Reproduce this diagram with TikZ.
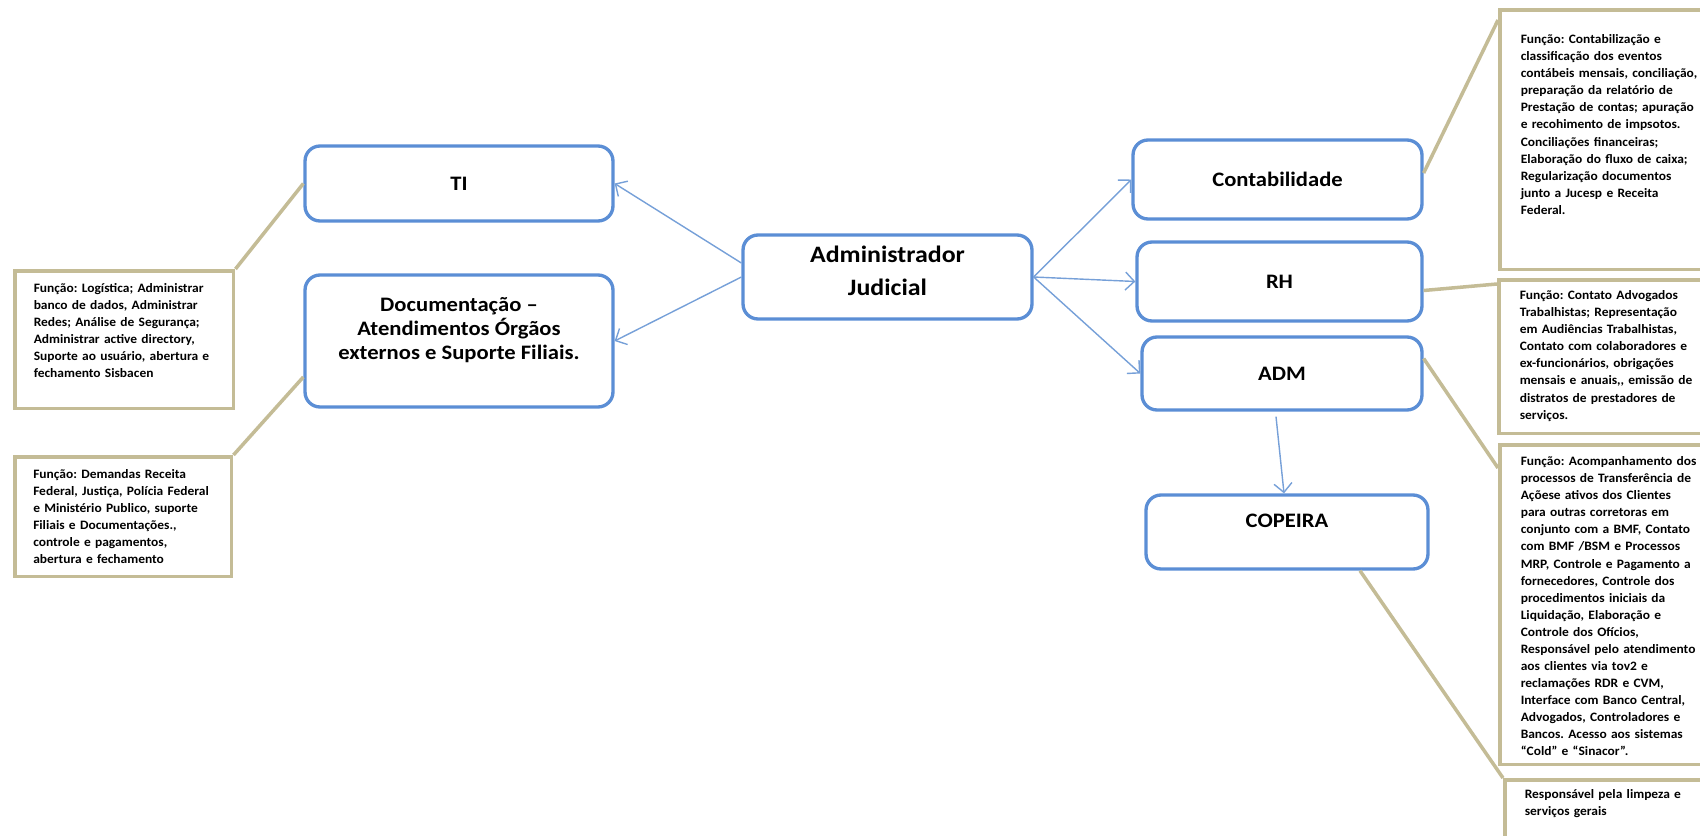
\documentclass[tikz,border=0pt]{standalone}
\usepackage{fontspec}
\setmainfont{Carlito}
\newfontfamily\unitfont[FakeStretch=1.1]{Carlito}
\newfontfamily\notefont[FakeStretch=1.05]{Carlito}
\usetikzlibrary{arrows.meta}
\definecolor{unitblue}{RGB}{91,142,213}
\definecolor{linkblue}{RGB}{118,160,216}
\definecolor{notetan}{RGB}{196,188,150}
\frenchspacing

\begin{document}
\begin{tikzpicture}[x=0.02cm,y=-0.02cm,>={Straight Barb[length=1.8mm,width=3.6mm]}]
  \tikzstyle{unit}=[draw=unitblue,line width=1.9pt,rounded corners=0.3cm,fill=white,align=center,
    font=\unitfont\bfseries\fontsize{11.7}{14}\selectfont]
  \tikzstyle{note}=[draw=notetan,line width=2pt,fill=white,anchor=north west,inner ysep=0pt,
    inner xsep=0.42cm,align=left,font=\notefont\bfseries\fontsize{7.3}{9.7}\selectfont]
  \tikzstyle{link}=[color=linkblue,line width=0.8pt]
  \tikzstyle{tie}=[color=notetan,line width=2pt]

  \useasboundingbox (0,0) rectangle (1700,835);
  \clip (0,0) rectangle (1700,835);

  \node[unit,minimum width=6.16cm,minimum height=1.5cm]  (ti)    at (459,183.5) {TI};
  \node[unit,minimum width=6.16cm,minimum height=2.64cm,text height=24.6pt,text depth=3pt,
    font=\unitfont\bfseries\fontsize{11.7}{13.7}\selectfont]
                                                         (doc)   at (459,341)
    {Documentação –\\Atendimentos Órgãos\\externos e Suporte Filiais.};
  \node[unit,minimum width=5.78cm,minimum height=1.68cm,text height=24.7pt,text depth=3.5pt,
    font=\unitfont\bfseries\fontsize{13.4}{19}\selectfont]
                                                         (admin) at (887.5,277) {Administrador\\Judicial};
  \node[unit,minimum width=5.78cm,minimum height=1.58cm] (cont)  at (1277.5,179.5) {Contabilidade};
  \node[unit,minimum width=5.7cm,minimum height=1.58cm]  (rh)    at (1279.5,281.5) {RH};
  \node[unit,minimum width=5.6cm,minimum height=1.46cm]  (adm)   at (1282,373.5) {ADM};
  \node[unit,minimum width=5.64cm,minimum height=1.48cm,text height=8pt,text depth=12.8pt]
                                                         (copeira) at (1287,532) {COPEIRA};

  % callouts
  \node[note,inner xsep=0.38cm,text width=3.62cm,text height=0.44cm,text depth=2.32cm] (l1) at (13,269)
    {Função: Logística; Administrar\\banco de dados, Administrar\\Redes; Análise de Segurança;\\Administrar active directory,\\Suporte ao usuário, abertura~e\\fechamento Sisbacen};
  \node[note,inner xsep=0.37cm,text width=3.6cm,text height=0.44cm,text depth=1.96cm] (l2) at (13,455)
    {Função: Demandas Receita\\Federal, Justiça, Polícia~Federal\\e Ministério Publico, suporte\\Filiais e Documentações.,\\controle e pagamentos,\\abertura e fechamento};
  \node[note,text width=4cm,text height=0.68cm,text depth=4.52cm] (r1) at (1498,8)
    {Função: Contabilização e\\classificação dos eventos\\contábeis mensais, conciliação,\\preparação da relatório de\\Prestação de contas; apuração\\e recohimento de impsotos.\\Conciliações financeiras;\\Elaboração do fluxo de caixa;\\Regularização documentos\\junto a Jucesp e Receita\\Federal.};
  \node[note,text width=4cm,text height=0.4cm,text depth=2.68cm] (r2) at (1497,278)
    {Função: Contato Advogados\\Trabalhistas; Representação\\em Audiências Trabalhistas,\\Contato com colaboradores e\\ex-funcionários, obrigações\\mensais e anuais,, emissão de\\distratos de prestadores de\\serviços.};
  \node[note,text width=4cm,text height=0.42cm,text depth=5.98cm] (r3) at (1498,443)
    {Função: Acompanhamento dos\\processos de Transferência de\\Açõese ativos dos Clientes\\para outras corretoras em\\conjunto com a BMF, Contato\\com BMF /BSM e Processos\\MRP, Controle e Pagamento a\\fornecedores, Controle dos\\procedimentos iniciais da\\Liquidação, Elaboração e\\Controle dos Ofícios,\\Responsável pelo atendimento\\aos clientes via tov2 e\\reclamações RDR e CVM,\\Interface com Banco Central,\\Advogados, Controladores e\\Bancos. Acesso aos sistemas\\“Cold” e “Sinacor”.};
  \node[note,inner xsep=0.4cm,text width=4cm,text height=0.38cm,text depth=1.22cm] (r4) at (1503,778)
    {Responsável pela limpeza e\\serviços gerais};

  \path[tie]
  (l1.north east)                 edge (ti.west)
  (l2.north east)                 edge ([yshift=-0.72cm]doc.west)
  ([yshift=-0.24cm]r1.north west) edge ([yshift=0.13cm]cont.east)
  ([yshift=-0.12cm]r2.north west) edge ([yshift=-0.18cm]rh.east)
  ([yshift=-0.5cm]r3.north west)  edge ([yshift=0.3cm]adm.east)
  (r4.north west)                 edge ([xshift=1.46cm]copeira.south)
  ;

  \path[link,->]
  ([yshift=0.28cm]admin.west)               edge (ti.east)
  (admin.west)                              edge (doc.east)
  (admin.east)                              edge (cont.west)
  (admin.east)                              edge (rh.west)
  (admin.east)                              edge (adm.west)
  ([xshift=-0.12cm,yshift=-0.1cm]adm.south) edge ([xshift=-0.06cm]copeira.north)
  ;
\end{tikzpicture}
\end{document}
